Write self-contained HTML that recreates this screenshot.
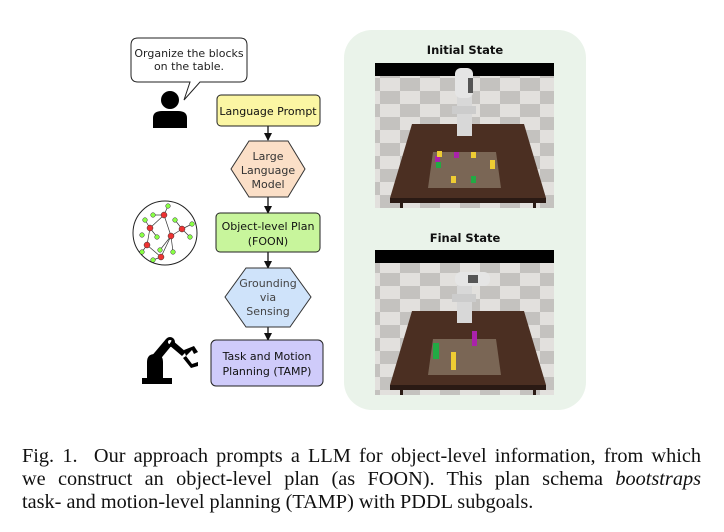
<!DOCTYPE html>
<html><head><meta charset="utf-8"><style>
html,body{margin:0;padding:0;background:#fff;width:724px;height:532px;overflow:hidden}
.cap{position:absolute;left:22px;width:679px;font-family:"Liberation Serif",serif;font-size:20.3px;line-height:23px;color:#111;white-space:nowrap}
.j{text-align:justify;text-align-last:justify}
svg text{font-family:"DejaVu Sans","Liberation Sans",sans-serif}
</style></head><body>
<svg width="724" height="440" style="position:absolute;left:0;top:0">
<defs>
<pattern id="chk" width="40" height="26" patternUnits="userSpaceOnUse"><rect width="40" height="26" fill="#e2e0dd"/><rect width="20" height="13" fill="#c4c2bf"/><rect x="20" y="13" width="20" height="13" fill="#c4c2bf"/></pattern>
<marker id="ar" markerWidth="8" markerHeight="8" refX="7" refY="4" orient="auto" markerUnits="userSpaceOnUse"><path d="M0,0 L8,4 L0,8z" fill="#111"/></marker>
</defs>
<path d="M138,38 H240 Q247,38 247,45 V75 Q247,82 240,82 H200 L184,100 L190,82 H138 Q131,82 131,75 V45 Q131,38 138,38Z" fill="#fff" stroke="#222" stroke-width="1"/>
<text x="189" y="57" font-size="11" text-anchor="middle" fill="#222">Organize the blocks</text>
<text x="189" y="70" font-size="11" text-anchor="middle" fill="#222">on the table.</text>
<circle cx="170" cy="100" r="9" fill="#000"/>
<path d="M153,128 V118 Q153,111 162,111 H178 Q187,111 187,118 V128Z" fill="#000"/>
<g stroke="#111" stroke-width="1.3" marker-end="url(#ar)">
<line x1="268" y1="126" x2="268" y2="140"/>
<line x1="268" y1="197" x2="268" y2="213"/>
<line x1="268" y1="252" x2="268" y2="268"/>
<line x1="268" y1="327" x2="268" y2="340"/>
</g>
<rect x="217" y="95" width="103" height="31" rx="4" fill="#fbf6a3" stroke="#222"/>
<text x="268" y="115" font-size="11" text-anchor="middle" fill="#111">Language Prompt</text>
<polygon points="249,141 288,141 305,169 288,197 249,197 231,169" fill="#fbdfc7" stroke="#333"/>
<text x="268" y="160" font-size="11" text-anchor="middle" fill="#333">Large</text>
<text x="268" y="174" font-size="11" text-anchor="middle" fill="#333">Language</text>
<text x="268" y="188" font-size="11" text-anchor="middle" fill="#333">Model</text>
<rect x="216" y="213" width="104" height="39" rx="4" fill="#c8f59c" stroke="#222"/>
<text x="268" y="230" font-size="11" text-anchor="middle" fill="#111">Object-level Plan</text>
<text x="268" y="245" font-size="11" text-anchor="middle" fill="#111">(FOON)</text>
<polygon points="246,268 290,268 311,297 290,327 246,327 225,297" fill="#cfe3fa" stroke="#333"/>
<text x="268" y="287" font-size="11" text-anchor="middle" fill="#444">Grounding</text>
<text x="268" y="301" font-size="11" text-anchor="middle" fill="#444">via</text>
<text x="268" y="315" font-size="11" text-anchor="middle" fill="#444">Sensing</text>
<rect x="211" y="340" width="112" height="46" rx="5" fill="#cfcbfa" stroke="#222"/>
<text x="267" y="360" font-size="11" text-anchor="middle" fill="#111">Task and Motion</text>
<text x="267" y="375" font-size="11" text-anchor="middle" fill="#111">Planning (TAMP)</text>
<circle cx="165" cy="233" r="32" fill="#fff" stroke="#222"/>
<g stroke="#333" stroke-width="0.7">
<line x1="164" y1="215" x2="168" y2="206"/><line x1="164" y1="215" x2="153" y2="215"/><line x1="164" y1="215" x2="171" y2="236"/>
<line x1="150" y1="228" x2="145" y2="220"/><line x1="150" y1="228" x2="157" y2="237"/><line x1="150" y1="228" x2="164" y2="215"/>
<line x1="182" y1="229" x2="192" y2="224"/><line x1="182" y1="229" x2="190" y2="237"/><line x1="182" y1="229" x2="175" y2="220"/>
<line x1="171" y1="236" x2="182" y2="229"/><line x1="171" y1="236" x2="173" y2="252"/><line x1="171" y1="236" x2="160" y2="250"/>
<line x1="147" y1="245" x2="150" y2="228"/><line x1="147" y1="245" x2="142" y2="252"/><line x1="147" y1="245" x2="161" y2="257"/>
<line x1="161" y1="257" x2="171" y2="236"/><line x1="161" y1="257" x2="153" y2="260"/>
</g>
<g fill="#e33" stroke="#333" stroke-width="0.5"><circle cx="164" cy="215" r="3"/><circle cx="150" cy="228" r="3"/><circle cx="182" cy="229" r="3"/><circle cx="171" cy="236" r="3"/><circle cx="147" cy="245" r="3"/><circle cx="161" cy="257" r="3"/></g>
<g fill="#8f4" stroke="#333" stroke-width="0.5"><circle cx="168" cy="206" r="2.3"/><circle cx="153" cy="215" r="2.3"/><circle cx="145" cy="220" r="2.3"/><circle cx="157" cy="237" r="2.3"/><circle cx="192" cy="224" r="2.3"/><circle cx="190" cy="237" r="2.3"/><circle cx="175" cy="220" r="2.3"/><circle cx="173" cy="252" r="2.3"/><circle cx="160" cy="250" r="2.3"/><circle cx="142" cy="252" r="2.3"/><circle cx="153" cy="260" r="2.3"/><circle cx="142" cy="235" r="2.3"/></g>
<g fill="#000">
<rect x="142" y="378" width="30" height="6"/>
<path d="M147,378 V362 Q147,354 155,354 Q163,354 163,362 V378Z"/>
<path d="M150,358 L166,339 L172,345 L158,362Z"/>
<circle cx="170" cy="342" r="5"/><circle cx="170" cy="342" r="2" fill="#fff"/>
<path d="M172,340 L186,352 L182,356 L169,345Z"/>
<path d="M184,350 L194,346 L198,352 L194,354 L192,350 L186,356Z"/>
<path d="M186,356 L192,364 L198,362 L198,366 L191,368 L183,358Z"/>
</g>
<rect x="344" y="30" width="242" height="380" rx="28" fill="#eaf3ea"/>
<text x="465" y="54" font-size="11.5" font-weight="bold" text-anchor="middle" fill="#111">Initial State</text>
<text x="465" y="242" font-size="11.5" font-weight="bold" text-anchor="middle" fill="#111">Final State</text>
<rect x="375" y="63" width="179" height="145" fill="url(#chk)"/>
<rect x="375" y="63" width="179" height="13" fill="#000"/>
<polygon points="412,124 524,124 546,198 390,198" fill="#4b2f22"/>
<rect x="390" y="198" width="156" height="5" fill="#2a1a14"/>
<rect x="400" y="203" width="3" height="5" fill="#2a1a14"/><rect x="533" y="203" width="3" height="5" fill="#2a1a14"/>
<polygon points="433,152 496,152 501,188 428,188" fill="#7a6655"/>
<rect x="457" y="96" width="15" height="40" fill="#d8d8d8"/>
<rect x="455" y="68" width="18" height="30" rx="6" fill="#e5e5e5"/><rect x="468" y="78" width="5" height="15" fill="#555"/>
<rect x="452" y="106" width="24" height="8" fill="#ccc"/>
<rect x="435" y="156" width="5" height="6" fill="#a2a"/><rect x="437" y="151" width="5" height="6" fill="#ec3"/><rect x="436" y="162" width="5" height="6" fill="#2a4"/><rect x="454" y="152" width="5" height="6" fill="#a2a"/><rect x="471" y="152" width="5" height="6" fill="#ec3"/><rect x="490" y="160" width="5" height="9" fill="#ec3"/><rect x="451" y="176" width="5" height="7" fill="#ec3"/><rect x="471" y="176" width="5" height="7" fill="#2a4"/>
<rect x="375" y="250" width="179" height="145" fill="url(#chk)"/>
<rect x="375" y="250" width="179" height="13" fill="#000"/>
<polygon points="412,311 524,311 546,385 390,385" fill="#4b2f22"/>
<rect x="390" y="385" width="156" height="5" fill="#2a1a14"/>
<rect x="400" y="390" width="3" height="5" fill="#2a1a14"/><rect x="533" y="390" width="3" height="5" fill="#2a1a14"/>
<polygon points="433,339 496,339 501,375 428,375" fill="#7a6655"/>
<rect x="457" y="285" width="15" height="38" fill="#d8d8d8"/>
<rect x="455" y="272" width="35" height="14" rx="6" fill="#e5e5e5"/><rect x="468" y="275" width="10" height="8" fill="#555"/>
<rect x="452" y="294" width="24" height="8" fill="#ccc"/>
<rect x="472" y="331" width="5" height="15" fill="#a2a"/>
<rect x="433" y="343" width="6" height="16" fill="#2a4"/>
<rect x="451" y="352" width="5" height="18" fill="#ec3"/>
</svg>
<div class="cap j" style="top:445px">Fig. 1.&nbsp; Our approach prompts a LLM for object-level information, from which</div>
<div class="cap j" style="top:468px">we construct an object-level plan (as FOON). This plan schema <i>bootstraps</i></div>
<div class="cap" style="top:491px">task- and motion-level planning (TAMP) with PDDL subgoals.</div>
</body></html>
